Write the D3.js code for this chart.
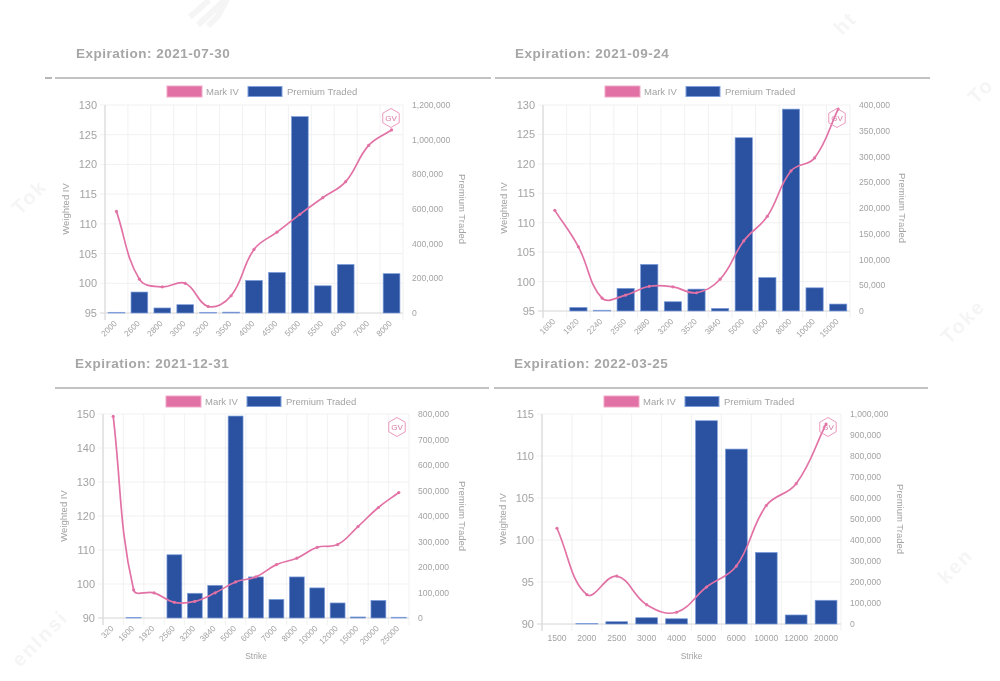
<!DOCTYPE html>
<html>
<head>
<meta charset="utf-8">
<script src="https://cdn.jsdelivr.net/npm/d3@7"></script>
<style>
  html, body { margin: 0; padding: 0; background: #fff; }
  svg { display: block; font-family: "Liberation Sans", sans-serif; filter: blur(0.55px); }
</style>
</head>
<body>
<svg id="chart" width="1000" height="681"></svg>
<script>
// values
const expirations = ["2021-07-30", "2021-09-24", "2021-12-31", "2022-03-25"];

const strikesJul = ["2000", "2600", "2800", "3000", "3200", "3500", "4000", "4500", "5000", "5500", "6000", "7000", "8000"];
const ivJul = [112.1, 100.7, 99.4, 100, 96.1, 97.9, 105.7, 108.6, 111.6, 114.4, 117.1, 123.2, 125.8];
const premiumJul = [4000, 121000, 29000, 48000, 4000, 5000, 188000, 234000, 1133000, 157000, 280000, 0, 227000];

const strikesSep = ["1600", "1920", "2240", "2560", "2880", "3200", "3520", "3840", "5000", "6000", "8000", "10000", "15000"];
const ivSep = [112.1, 105.9, 97.2, 97.7, 99.2, 99.1, 98.1, 100.4, 106.9, 111.1, 118.8, 121, 129.3];
const premiumSep = [0, 7000, 1500, 44000, 90500, 18000, 42500, 5000, 336500, 65000, 392000, 45000, 13500];

const strikesDec = ["320", "1600", "1920", "2560", "3200", "3840", "5000", "6000", "7000", "8000", "10000", "12000", "15000", "20000", "25000"];
const ivDec = [149.3, 98.3, 97.4, 94.6, 94.9, 97.4, 100.6, 102.1, 105.7, 107.6, 110.8, 111.6, 116.9, 122.5, 126.9];
const premiumDec = [0, 2500, 0, 248000, 97000, 128000, 792000, 161000, 73000, 161000, 118000, 59000, 4000, 69000, 3000];

const strikesMar = ["1500", "2000", "2500", "3000", "4000", "5000", "6000", "10000", "12000", "20000"];
const ivMar = [101.4, 93.5, 95.7, 92.3, 91.4, 94.4, 96.9, 104.1, 106.7, 113.8];
const premiumMar = [0, 3000, 11000, 30000, 25000, 968000, 833000, 341000, 43000, 113000];

const leftDomains = [[95, 130], [95, 130], [90, 150], [90, 115]];
const leftSteps = [5, 5, 10, 5];
const rightDomains = [[0, 1200000], [0, 400000], [0, 800000], [0, 1000000]];
const rightSteps = [200000, 50000, 100000, 100000];

const PINK = "#e272a6";
const BLUE = "#2a52a0";
const GREY = "#a3a3a3";

const svg = d3.select("#chart");

// faint watermark pieces behind the charts
const marks = [
  ["Tok", 20, 216], ["ht", 842, 36], ["To", 976, 105], ["Toke", 949, 345],
  ["enInsi", 20, 668], ["ken", 946, 585]
];
const wm = svg.append("g");
wm.selectAll("text")
  .data(marks)
  .enter().append("text")
  .attr("transform", d => `translate(${d[1]},${d[2]}) rotate(-45)`)
  .attr("font-size", 20)
  .attr("font-weight", "bold")
  .attr("letter-spacing", 2)
  .attr("fill", "#f5f5f5")
  .text(d => d[0]);
wm.append("path")
  .attr("d", "M190 17 L209 0 M198 25 L228 -3 L218 16 L208 26")
  .attr("fill", "none").attr("stroke", "#f5f5f5").attr("stroke-width", 6);

// same bezier handles as the original chart library, tension 0.4
function spline(pts) {
  const path = d3.path();
  const t = 0.4;
  const handles = pts.map((cur, i) => {
    const prev = pts[Math.max(i - 1, 0)];
    const next = pts[Math.min(i + 1, pts.length - 1)];
    const d01 = Math.hypot(cur[0] - prev[0], cur[1] - prev[1]);
    const d12 = Math.hypot(next[0] - cur[0], next[1] - cur[1]);
    const fa = t * d01 / (d01 + d12);
    const fb = t * d12 / (d01 + d12);
    return {
      in: [cur[0] - fa * (next[0] - prev[0]), cur[1] - fa * (next[1] - prev[1])],
      out: [cur[0] + fb * (next[0] - prev[0]), cur[1] + fb * (next[1] - prev[1])]
    };
  });
  path.moveTo(pts[0][0], pts[0][1]);
  for (let i = 1; i < pts.length; i++) {
    path.bezierCurveTo(handles[i - 1].out[0], handles[i - 1].out[1], handles[i].in[0], handles[i].in[1], pts[i][0], pts[i][1]);
  }
  return path.toString();
}

const panels = [
  { strikes: strikesJul, iv: ivJul, premium: premiumJul, left: 105, right: 403, top: 105, bottom: 313, titleX: 76, titleY: 58, ruleY: 78, ruleX: [55, 491], gvX: 391, gvY: 118, legendX: 167, tilted: true, strike: false, premGap: 55.5 },
  { strikes: strikesSep, iv: ivSep, premium: premiumSep, left: 543, right: 850, top: 105, bottom: 311, titleX: 515, titleY: 58, ruleY: 78, ruleX: [495, 930], gvX: 837, gvY: 118, legendX: 605, tilted: true, strike: false, premGap: 48.5 },
  { strikes: strikesDec, iv: ivDec, premium: premiumDec, left: 103, right: 409, top: 414, bottom: 618, titleX: 75, titleY: 368, ruleY: 388, ruleX: [55, 489], gvX: 397, gvY: 427, legendX: 166, tilted: true, strike: true, premGap: 49.5 },
  { strikes: strikesMar, iv: ivMar, premium: premiumMar, left: 542, right: 841, top: 414, bottom: 624, titleX: 514, titleY: 368, ruleY: 388, ruleX: [494, 928], gvX: 828, gvY: 427, legendX: 604, tilted: false, strike: true, premGap: 55.5 }
];

panels.forEach((p, i) => {
  const g = svg.append("g");

  const x = d3.scaleBand().domain(p.strikes).range([p.left, p.right]);
  const yLeft = d3.scaleLinear().domain(leftDomains[i]).range([p.bottom, p.top]);
  const yRight = d3.scaleLinear().domain(rightDomains[i]).range([p.bottom, p.top]);

  g.append("text")
    .attr("x", p.titleX).attr("y", p.titleY)
    .attr("font-size", 13.5).attr("font-weight", "bold")
    .attr("letter-spacing", 0.5)
    .attr("fill", "#a6a6a6")
    .text("Expiration: " + expirations[i]);

  g.append("line")
    .attr("x1", p.ruleX[0]).attr("x2", p.ruleX[1])
    .attr("y1", p.ruleY).attr("y2", p.ruleY)
    .attr("stroke", "#858585").attr("stroke-width", 1.2);

  // legend
  const lx = p.legendX;
  const ly = p.ruleY + 8;
  g.append("rect").attr("x", lx).attr("y", ly).attr("width", 35).attr("height", 11)
    .attr("fill", PINK).attr("stroke", "#f0a8c8");
  g.append("text").attr("x", lx + 39).attr("y", ly + 9).attr("font-size", 9.5).attr("fill", GREY).text("Mark IV");
  g.append("rect").attr("x", lx + 81).attr("y", ly + 0.5).attr("width", 34).attr("height", 10)
    .attr("fill", BLUE).attr("stroke", "#7f9fdc");
  g.append("text").attr("x", lx + 120).attr("y", ly + 9).attr("font-size", 9.5).attr("fill", GREY).text("Premium Traded");

  // grid
  const grid = g.append("g").attr("stroke", "#eeeeee").attr("stroke-width", 0.8);
  const leftTicks = d3.range(leftDomains[i][0], leftDomains[i][1] + 1, leftSteps[i]);
  grid.selectAll("line.h").data(leftTicks).enter().append("line")
    .attr("class", "h")
    .attr("x1", p.left - 5).attr("x2", p.right)
    .attr("y1", d => yLeft(d)).attr("y2", d => yLeft(d));
  const edges = p.strikes.map(s => x(s)).concat([p.right]);
  grid.selectAll("line.v").data(edges).enter().append("line")
    .attr("class", "v")
    .attr("x1", d => d).attr("x2", d => d)
    .attr("y1", p.top).attr("y2", p.bottom + 7);

  g.append("line")
    .attr("x1", p.left).attr("x2", p.left)
    .attr("y1", p.top).attr("y2", p.bottom + 7)
    .attr("stroke", "#d4d4d4").attr("stroke-width", 1);
  g.append("line")
    .attr("x1", p.left - 5).attr("x2", p.right)
    .attr("y1", p.bottom).attr("y2", p.bottom)
    .attr("stroke", "#dcdcdc").attr("stroke-width", 1);

  // bars
  const barW = x.bandwidth() * 0.73;
  g.append("g").selectAll("rect")
    .data(p.strikes.map((s, j) => ({ s, v: p.premium[j] })).filter(d => d.v > 0))
    .enter().append("rect")
    .attr("x", d => x(d.s) + (x.bandwidth() - barW) / 2)
    .attr("width", barW)
    .attr("y", d => yRight(d.v))
    .attr("height", d => yRight(0) - yRight(d.v))
    .attr("fill", BLUE)
    .attr("stroke", "#7f9fdc")
    .attr("stroke-width", 0.7);

  // IV line
  const pts = p.strikes.map((s, j) => [x(s) + x.bandwidth() / 2, yLeft(p.iv[j])]);
  g.append("path")
    .attr("d", spline(pts))
    .attr("fill", "none")
    .attr("stroke", PINK)
    .attr("stroke-width", 1.7);
  g.append("g").selectAll("circle")
    .data(pts)
    .enter().append("circle")
    .attr("cx", d => d[0]).attr("cy", d => d[1]).attr("r", 1.6)
    .attr("fill", PINK);

  // GV badge
  const hex = d3.range(6).map(k => {
    const a = Math.PI / 3 * k - Math.PI / 2;
    return [p.gvX + 9.5 * Math.cos(a), p.gvY + 9.5 * Math.sin(a)];
  });
  g.append("polygon").attr("points", hex.join(" "))
    .attr("fill", "none").attr("stroke", "#e88db6").attr("stroke-width", 0.9);
  g.append("text").attr("x", p.gvX).attr("y", p.gvY + 3)
    .attr("text-anchor", "middle").attr("font-size", 8).attr("fill", "#d87aa5").text("GV");

  // left axis labels
  g.append("g").selectAll("text").data(leftTicks).enter().append("text")
    .attr("x", p.left - 8).attr("y", d => yLeft(d) + 4)
    .attr("text-anchor", "end").attr("font-size", 11).attr("fill", GREY)
    .text(d => d);

  // right axis labels
  const fmt = d3.format(",");
  g.append("g").selectAll("text")
    .data(d3.range(rightDomains[i][0], rightDomains[i][1] + 1, rightSteps[i]))
    .enter().append("text")
    .attr("x", p.right + 9).attr("y", d => yRight(d) + 3)
    .attr("font-size", 8.6).attr("fill", GREY)
    .text(d => fmt(d));

  // strike labels
  const labels = g.append("g").selectAll("text").data(p.strikes).enter().append("text")
    .attr("font-size", p.tilted ? 8.2 : 8.6).attr("fill", GREY).text(d => d);
  if (p.tilted) {
    labels.attr("text-anchor", "end")
      .attr("transform", d => `translate(${x(d) + x.bandwidth() / 2 + 1},${p.bottom + 11}) rotate(-45)`);
  } else {
    labels.attr("text-anchor", "middle")
      .attr("x", d => x(d) + x.bandwidth() / 2)
      .attr("y", p.bottom + 17);
  }

  // axis titles
  const midY = (p.top + p.bottom) / 2;
  g.append("text")
    .attr("transform", `translate(${p.left - 36},${midY}) rotate(-90)`)
    .attr("text-anchor", "middle").attr("font-size", 9.5).attr("fill", GREY)
    .text("Weighted IV");
  g.append("text")
    .attr("transform", `translate(${p.right + p.premGap},${midY}) rotate(90)`)
    .attr("text-anchor", "middle").attr("font-size", 9.5).attr("fill", GREY)
    .text("Premium Traded");
  if (p.strike) {
    g.append("text")
      .attr("x", (p.left + p.right) / 2).attr("y", 659)
      .attr("text-anchor", "middle").attr("font-size", 8.5).attr("fill", GREY)
      .text("Strike");
  }
});

// stub of the first section rule at the far left
svg.append("line").attr("x1", 45).attr("x2", 52).attr("y1", 78).attr("y2", 78)
  .attr("stroke", "#858585").attr("stroke-width", 1.2);
</script>
</body>
</html>
